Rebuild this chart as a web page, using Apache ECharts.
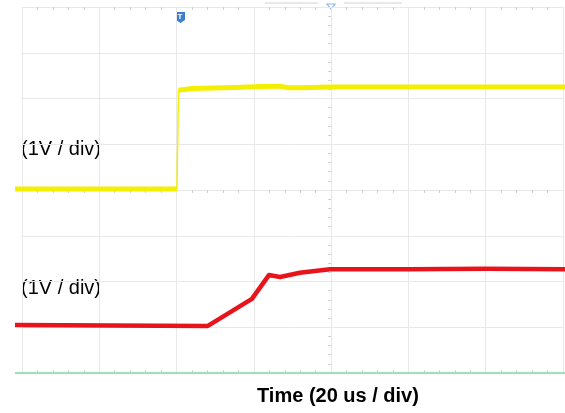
<!DOCTYPE html>
<html><head><meta charset="utf-8">
<script src="https://cdn.jsdelivr.net/npm/echarts@6/dist/echarts.min.js"></script>
<style>html,body{margin:0;padding:0;background:#fff}#c{width:565px;height:413px}</style>
</head><body><div id="c"></div>
<script>
// time in us (20 us / div), vertical in divisions (1 V / div)
const xTicks = [0, 20, 40, 60, 80, 100, 120, 140];
const ch1Low = [[-1.81, 4.02], [40.1, 4.02]];
const ch1Edge = [[40.1, 4.02], [40.5, 6.18]];
const ch1High = [[40.5, 6.18], [44, 6.22], [55, 6.24], [62, 6.26], [66.5, 6.27], [69, 6.235], [72, 6.235], [80, 6.25], [100, 6.25], [120, 6.25], [140.52, 6.25]];
const ch2 = [[-1.81, 1.05], [48.1, 1.03], [59.5, 1.62], [63.9, 2.14], [66.8, 2.10], [71.9, 2.19], [79.7, 2.27], [100, 2.27], [120, 2.28], [140.52, 2.27]];
const ch3 = [[-1.81, 0], [140.52, 0]];
const labels = ['(1V / div)', '(1V / div)', 'Time (20 us / div)'];

const chart = echarts.init(document.getElementById('c'), null, {renderer: 'canvas'});
const gridRect = {left: 22, right: 2, top: 7, bottom: 40};
const gl = '#e8e8e8', tk = '#cfcfcf';
const minor = {show: true, splitNumber: 5, length: 3, lineStyle: {color: tk}};
const hidden = {axisLine: {show: false}, axisTick: {show: false}, axisLabel: {show: false}, splitLine: {show: false}};
const opt = {
  animation: false,
  backgroundColor: '#ffffff',
  grid: [Object.assign({}, gridRect), Object.assign({}, gridRect), {left: 15, right: 0, top: 7, bottom: 40}],
  xAxis: [
    {gridIndex: 0, type: 'value', min: xTicks[0], max: xTicks[xTicks.length - 1], interval: 20,
      axisLine: {show: false}, axisTick: {show: false}, axisLabel: {show: false},
      splitLine: {show: true, lineStyle: {color: gl, width: 1}}},
    {gridIndex: 0, type: 'value', position: 'top', min: 0, max: 140, interval: 20,
      axisLine: {show: false}, axisTick: {show: false, inside: true},
      minorTick: minor, axisLabel: {show: false}, splitLine: {show: false}},
    {gridIndex: 1, type: 'value', min: -80, max: 60, interval: 20,
      axisLine: {show: true, onZero: true, lineStyle: {color: gl}},
      axisTick: {show: false}, minorTick: minor,
      axisLabel: {show: false}, splitLine: {show: false}},
    {gridIndex: 1, type: 'value', position: 'bottom', offset: 0, min: -80, max: 60, interval: 20,
      axisLine: {show: false}, axisTick: {show: false, inside: true}, minorTick: minor,
      axisLabel: {show: false}, splitLine: {show: false}},
    {gridIndex: 2, type: 'value', position: 'top', min: -1.81, max: 140.52,
      axisLine: {show: true, lineStyle: {color: '#d8d8d8'}}, axisTick: {show: false},
      axisLabel: {show: false}, splitLine: {show: false}},
  ],
  yAxis: [
    {gridIndex: 0, type: 'value', min: 0, max: 8, interval: 1,
      axisLine: {show: false}, axisTick: {show: false}, axisLabel: {show: false},
      splitLine: {show: true, lineStyle: {color: gl, width: 1}}},
    {gridIndex: 1, type: 'value', min: -4, max: 4, interval: 1,
      axisLine: {show: true, onZero: true, lineStyle: {color: gl}},
      axisTick: {show: false}, minorTick: minor,
      axisLabel: {show: false}, splitLine: {show: false}},
    Object.assign({gridIndex: 2, type: 'value', min: 0, max: 8}, hidden),
  ],
  series: [
    {type: 'line', xAxisIndex: 4, yAxisIndex: 2, data: ch3, symbol: 'none', clip: false,
      lineStyle: {color: '#9fe0b4', width: 2}},
    {type: 'line', xAxisIndex: 4, yAxisIndex: 2, data: ch1Low, symbol: 'none', clip: false,
      lineStyle: {color: '#f4ef00', width: 5}},
    {type: 'line', xAxisIndex: 4, yAxisIndex: 2, data: ch1Edge, symbol: 'none', clip: false,
      lineStyle: {color: '#f4ef00', width: 1.5}},
    {type: 'line', xAxisIndex: 4, yAxisIndex: 2, data: ch1High, symbol: 'none', clip: false,
      lineStyle: {color: '#f4ef00', width: 5, join: 'round'}},
    {type: 'line', xAxisIndex: 4, yAxisIndex: 2, data: ch2, symbol: 'none', clip: false,
      lineStyle: {color: '#e8141b', width: 4.5, join: 'round'}},
  ],
  graphic: [
    {type: 'text', left: 21, top: 139, style: {text: labels[0], font: '20px "Liberation Sans", Arial, sans-serif', fill: '#000'}},
    {type: 'text', left: 21, top: 278, style: {text: labels[1], font: '20px "Liberation Sans", Arial, sans-serif', fill: '#000'}},
    {type: 'text', left: 257, top: 386, style: {text: labels[2], font: 'bold 20px "Liberation Sans", Arial, sans-serif', fill: '#000'}},
    {type: 'line', shape: {x1: 265, y1: 3, x2: 318, y2: 3}, style: {stroke: '#d0d0d0', lineWidth: 1}},
    {type: 'line', shape: {x1: 344, y1: 3, x2: 402, y2: 3}, style: {stroke: '#d0d0d0', lineWidth: 1}},
    {type: 'polygon', shape: {points: [[327, 4], [335, 4], [331, 9]]}, style: {fill: 'none', stroke: '#8fb6e6', lineWidth: 1.2}},
    {type: 'polygon', shape: {points: [[176, 12], [185, 12], [185, 20], [180.5, 23], [176, 20]]}, style: {fill: '#3c7fd2'}},
    {type: 'text', left: 177.5, top: 12.5, style: {text: 'T', font: 'bold 8px "Liberation Sans", Arial, sans-serif', fill: '#fff'}},
  ]
};
chart.setOption(opt);
</script></body></html>
